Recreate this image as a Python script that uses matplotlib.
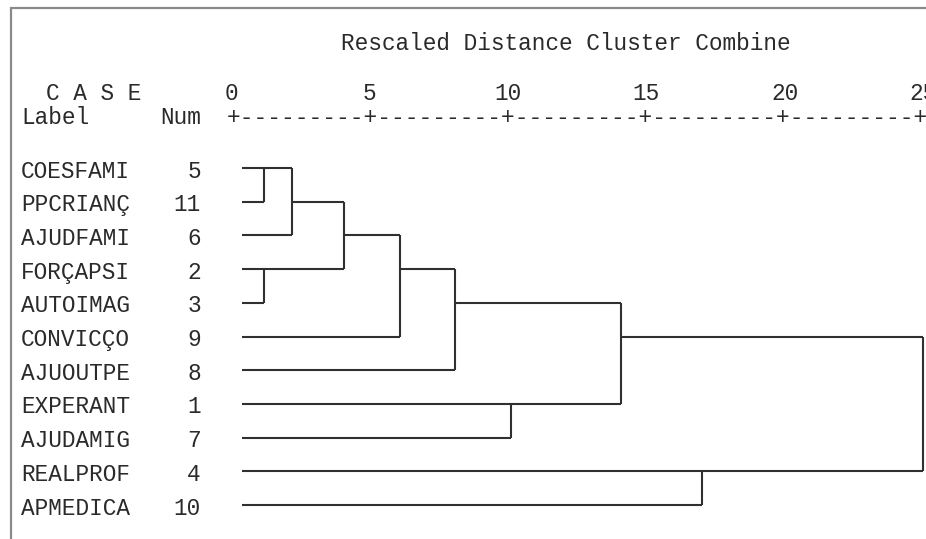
import matplotlib
matplotlib.use("Agg")
import matplotlib.pyplot as plt
from matplotlib.transforms import blended_transform_factory
from matplotlib.patches import Rectangle

# ---------------- data ----------------
case_labels = ["COESFAMI", "PPCRIANÇ", "AJUDFAMI", "FORÇAPSI", "AUTOIMAG",
               "CONVICÇO", "AJUOUTPE", "EXPERANT", "AJUDAMIG", "REALPROF", "APMEDICA"]
case_nums = [5, 11, 6, 2, 3, 9, 8, 1, 7, 4, 10]

# agglomeration (joined clusters named by their first case) and rescaled distance
merge_a = ["COESFAMI", "FORÇAPSI", "COESFAMI", "COESFAMI", "COESFAMI",
           "COESFAMI", "EXPERANT", "COESFAMI", "REALPROF", "COESFAMI"]
merge_b = ["PPCRIANÇ", "AUTOIMAG", "AJUDFAMI", "FORÇAPSI", "CONVICÇO",
           "AJUOUTPE", "AJUDAMIG", "EXPERANT", "APMEDICA", "REALPROF"]
merge_dist = [1.2, 1.2, 2.2, 4.1, 6.1, 8.1, 10.1, 14.1, 17.0, 25.0]

scale_ticks = [0, 5, 10, 15, 20, 25]
title = "Rescaled Distance Cluster Combine"

# ---------------- figure ----------------
W, H = 926, 539
fig = plt.figure(figsize=(W / 100, H / 100), dpi=100)
fig.patch.set_facecolor("white")

FONT = "Liberation Mono"
TXT = "#2a2a2a"
LINE = "#303030"
fs = 16.4

ax = fig.add_axes([231 / W, (H - 505) / H, 692 / W, 337 / H])
ax.set_xlim(0, 25)
ax.set_ylim(len(case_labels) - 1, 0)
ax.axis("off")

# frame (top and left edges of the output window)
fig.patches.append(Rectangle((11 / W, -0.05), 1.2, 1.05 - 8 / H,
                             transform=fig.transFigure, fill=False,
                             edgecolor="#8a8a8a", lw=1.6, zorder=0))

tx_data_fig = blended_transform_factory(ax.transData, fig.transFigure)
tx_fig_data = blended_transform_factory(fig.transFigure, ax.transData)

def fy(py):
    return 1 - py / H

# header
fig.text(566 / W, fy(43), title, family=FONT, fontsize=fs, color=TXT,
         ha="center", va="center")
fig.text(46 / W, fy(93), "C A S E", family=FONT, fontsize=fs, color=TXT,
         ha="left", va="center")
fig.text(21 / W, fy(117), "Label", family=FONT, fontsize=fs, color=TXT,
         ha="left", va="center")
fig.text(201 / W, fy(117), "Num", family=FONT, fontsize=fs, color=TXT,
         ha="right", va="center")
for t in scale_ticks:
    ax.text(t, fy(93), str(t), transform=tx_data_fig, family=FONT,
            fontsize=fs, color=TXT, ha="center", va="center", clip_on=False)

# ruler: one character per half unit, '+' at every labelled tick
nchar_per_tick = 10
ruler = ""
for i, t in enumerate(scale_ticks):
    ruler += "+"
    if i < len(scale_ticks) - 1:
        ruler += "-" * (nchar_per_tick - 1)
ruler_fs = (scale_ticks[-1] - scale_ticks[0]) / (len(ruler) - 1) * (692 / 25) / 0.6 * 72 / 100
ax.text((scale_ticks[0] + scale_ticks[-1]) / 2, fy(117), ruler,
        transform=tx_data_fig, family=FONT, fontsize=ruler_fs, color=TXT,
        ha="center", va="center", clip_on=False)

# case labels and numbers
for r, (lab, num) in enumerate(zip(case_labels, case_nums)):
    ax.text(21 / W, r + 0.09, lab, transform=tx_fig_data, family=FONT,
            fontsize=fs, color=TXT, ha="left", va="center")
    ax.text(201 / W, r + 0.09, str(num), transform=tx_fig_data, family=FONT,
            fontsize=fs, color=TXT, ha="right", va="center")

# dendrogram
leaf_start = 0.4
row = {lab: i for i, lab in enumerate(case_labels)}
xpos = {lab: leaf_start for lab in case_labels}
kw = dict(color=LINE, lw=1.5, solid_capstyle="butt", clip_on=False)
for a, b, d in zip(merge_a, merge_b, merge_dist):
    ra, rb = row[a], row[b]
    ax.plot([xpos[a], d], [ra, ra], **kw)
    ax.plot([xpos[b], d], [rb, rb], **kw)
    ax.plot([d, d], [ra, rb], **kw)
    row[a] = (ra + rb) // 2
    xpos[a] = d

fig.savefig("out.png", dpi=100, facecolor="white")
